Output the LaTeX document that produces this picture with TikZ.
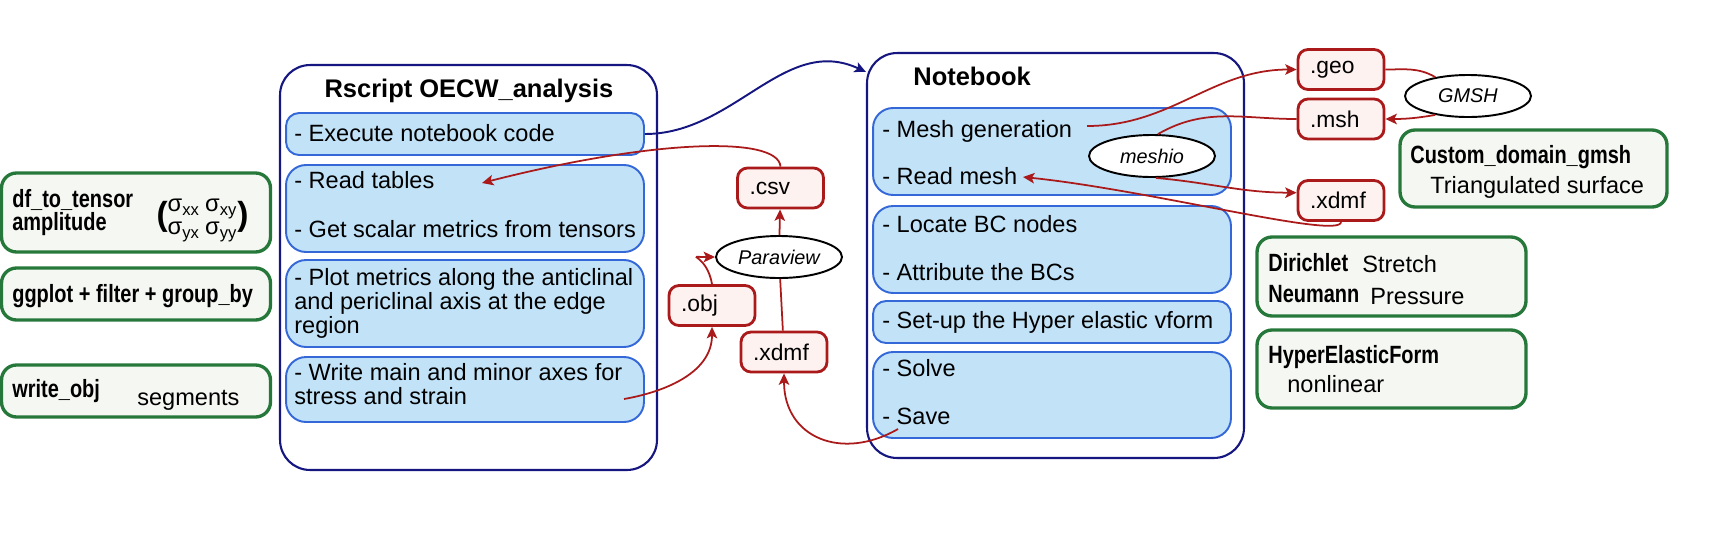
\documentclass[tikz,border=0pt]{standalone}
\usepackage{fontspec}
\setmainfont{Liberation Sans}
\newfontfamily\condfont[FakeStretch=0.8]{Liberation Sans}
\usepackage{xcolor}
\usepackage{tikz}
\usetikzlibrary{shapes.geometric, arrows.meta}
\definecolor{outernavy}{RGB}{22, 22, 128}
\definecolor{stepblue}{RGB}{52, 104, 216}
\definecolor{steplight}{RGB}{194, 226, 247}
\definecolor{filered}{RGB}{170, 26, 26}
\definecolor{filelight}{RGB}{253, 242, 240}
\definecolor{funcgreen}{RGB}{38, 120, 58}
\definecolor{funclight}{RGB}{245, 247, 242}

\begin{document}
\begin{tikzpicture}[
        x=0.02cm, y=-0.02cm,
        script/.style={rectangle, draw=outernavy, line width=1.2pt, rounded corners=0.6cm, minimum width=7.54cm, minimum height=8.1cm},
        stepbox/.style={rectangle, draw=stepblue, line width=1.1pt, fill=steplight, rounded corners=0.4cm, minimum width=7.16cm},
        filebox/.style={rectangle, draw=filered, line width=1.6pt, fill=filelight, rounded corners=0.2cm, text width=1.24cm, inner xsep=0.24cm, align=left, minimum height=0.8cm, font=\fontsize{13}{15}\selectfont},
        tool/.style={ellipse, draw=black, line width=1.1pt, fill=white, minimum width=2.52cm, minimum height=0.84cm, inner sep=0pt, font=\fontsize{11.3}{13}\selectfont\itshape},
        funcbox/.style={rectangle, draw=funcgreen, line width=1.9pt, fill=funclight, rounded corners=0.3cm, minimum width=5.38cm},
        heading/.style={inner sep=0pt, font=\fontsize{14.5}{16}\selectfont\bfseries},
        steptext/.style={anchor=base west, inner sep=0pt, font=\fontsize{13.4}{15}\selectfont},
        functext/.style={anchor=base west, inner sep=0pt, font=\fontsize{14.2}{15}\selectfont\condfont\bfseries},
        flow/.style={-{Stealth[length=6.5pt, width=6pt, inset=1.5pt]}, line width=1pt, color=filered},
        link/.style={line width=1pt, color=filered},
        callflow/.style={-{Stealth[length=6.5pt, width=6pt, inset=1.5pt]}, line width=1.1pt, color=outernavy}
    ]
    \useasboundingbox (0,0) rectangle (1709,545);

    % Main boxes - R script and notebook
    \node[script] (rscript) at (468.5,267.5) {};
    \node[heading, anchor=base] (rtitle) at (469,97) {Rscript OECW\_analysis};
    \node[script] (nb) at (1055.5,255.5) {};
    \node[heading, anchor=base west] (nbtitle) at (913,85) {Notebook};

    % Steps of the R script
    \node[stepbox, minimum height=0.84cm, rounded corners=0.26cm] (exec) at (465,134) {};
    \node[stepbox, minimum height=1.74cm] (read) at (465,208.5) {};
    \node[stepbox, minimum height=1.74cm] (plot) at (465,303.5) {};
    \node[stepbox, minimum height=1.3cm] (write) at (465,389.5) {};
    \node[steptext] (exectxt) at (294,141) {- Execute notebook code};
    \node[steptext] (readtxt) at (294,188) {- Read tables};
    \node[steptext] (scalartxt) at (294,237) {- Get scalar metrics from tensors};
    \node[steptext] (plottxt) at (294,285) {- Plot metrics along the anticlinal};
    \node[steptext] (plottxtb) at (294,309) {and periclinal axis at the edge};
    \node[steptext] (plottxtc) at (294,333) {region};
    \node[steptext] (writetxt) at (294,380) {- Write main and minor axes for};
    \node[steptext] (writetxtb) at (294,404) {stress and strain};

    % Steps of the notebook
    \node[stepbox, minimum height=1.74cm] (mesh) at (1052,151.5) {};
    \node[stepbox, minimum height=1.74cm] (locate) at (1052,249.5) {};
    \node[stepbox, minimum height=0.84cm, rounded corners=0.26cm] (setup) at (1052,322) {};
    \node[stepbox, minimum height=1.72cm] (solve) at (1052,395) {};
    \node[steptext] (meshtxt) at (882,137) {- Mesh generation};
    \node[steptext] (rmeshtxt) at (882,184) {- Read mesh};
    \node[steptext] (locatetxt) at (882,232) {- Locate BC nodes};
    \node[steptext] (bctxt) at (882,280) {- Attribute the BCs};
    \node[steptext] (setuptxt) at (882,328) {- Set-up the Hyper elastic vform};
    \node[steptext] (solvetxt) at (882,376) {- Solve};
    \node[steptext] (savetxt) at (882,424) {- Save};

    % Functions used by the R script
    \node[funcbox, minimum height=1.58cm] (dft) at (136,212.5) {};
    \node[funcbox, minimum height=1.04cm] (gg) at (136,294) {};
    \node[funcbox, minimum height=1.04cm] (wobj) at (136,391) {};
    \node[functext] (dfttxt) at (12,207) {df\_to\_tensor};
    \node[functext] (amptxt) at (12,230) {amplitude};
    \node[inner sep=0pt, font=\fontsize{13.5}{13}\selectfont] (tensor) at (202.5,219) {{\fontsize{19}{19}\selectfont\bfseries(}\begin{tabular}{@{}l@{\hspace{3pt}}l@{}}σ\textsubscript{xx} & σ\textsubscript{xy}\\ σ\textsubscript{yx} & σ\textsubscript{yy}\end{tabular}{\fontsize{19}{19}\selectfont\bfseries)}};
    \node[functext] (ggtxt) at (12,302) {ggplot + filter + group\_by};
    \node[functext] (wobjtxt) at (12,397) {write\_obj};
    \node[steptext] (segtxt) at (137,405) {segments};

    % Functions used by the notebook
    \node[funcbox, minimum width=5.34cm, minimum height=1.54cm] (custom) at (1533.5,168.5) {};
    \node[funcbox, minimum height=1.58cm] (dir) at (1391.5,276.5) {};
    \node[funcbox, minimum height=1.56cm] (hyp) at (1391.5,369) {};
    \node[functext] (customtxt) at (1410,163) {Custom\_domain\_gmsh};
    \node[steptext] (tritxt) at (1430,193) {Triangulated surface};
    \node[functext] (dirtxt) at (1268,271) {Dirichlet};
    \node[steptext] (stretchtxt) at (1362,272) {Stretch};
    \node[functext] (neutxt) at (1268,302) {Neumann};
    \node[steptext] (presstxt) at (1370,304) {Pressure};
    \node[functext] (hyptxt) at (1268,363) {HyperElasticForm};
    \node[steptext] (nonlintxt) at (1287,392) {nonlinear};

    % Files and tools
    \node[filebox] (csv) at (780.5,188) {.csv};
    \node[filebox] (obj) at (712,305.5) {.obj};
    \node[filebox] (xdmfpv) at (784,352) {.xdmf};
    \node[tool] (para) at (779,257) {Paraview};
    \node[filebox] (geo) at (1341,69.5) {.geo};
    \node[filebox] (msh) at (1341,119) {.msh};
    \node[filebox] (xdmfnb) at (1341,200.5) {.xdmf};
    \node[tool] (gmsh) at (1468,96) {GMSH};
    \node[tool] (meshio) at (1152,156) {meshio};

    % Free ends inside the step boxes
    \coordinate (readpt) at (482,183);
    \coordinate (writept) at (624,399);
    \coordinate (savept) at (898,429);
    \coordinate (meshpt) at (1087,126);
    \coordinate (rmeshpt) at (1023,177);

    % Data flows
    \draw[callflow] (exec.east) to[out=0, in=155] ([yshift=-0.4cm]nb.north west);
    \draw[flow] (csv.north) .. controls (778,135) and (650,140) .. (readpt);
    \draw[flow] (para) -- (csv);
    \draw[flow] (obj.north) to[out=100, in=180, looseness=3] (para.west);
    \draw[flow] (writept) to[out=10, in=270] (obj.south);
    \draw[link] (xdmfpv) -- (para);
    \draw[flow] (savept) to[out=210, in=270, looseness=1.3] (xdmfpv.south);
    \draw[flow] (meshpt) to[out=0, in=180] (geo.west);
    \draw[link] (msh.west) to[out=180, in=30] (meshio.75);
    \draw[flow] (meshio.-80) to[out=-5, in=180] (xdmfnb.170);
    \draw[flow] (xdmfnb.south) .. controls (1341,240) and (1150,190) .. (rmeshpt);
    \draw[link] (geo.east) to[out=0, in=150] (gmsh.150);
    \draw[flow] (gmsh.210) to[out=190, in=0] (msh.east);

\end{tikzpicture}
\end{document}
